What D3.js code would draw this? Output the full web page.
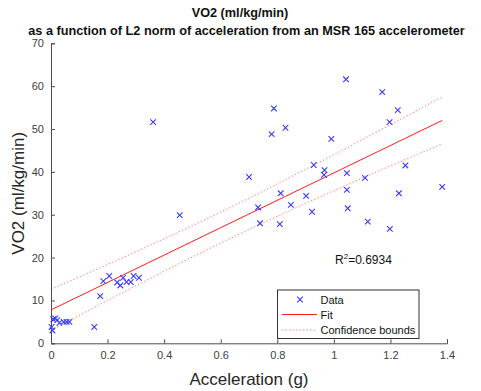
<!DOCTYPE html>
<html>
<head>
<meta charset="utf-8">
<script src="https://cdn.jsdelivr.net/npm/d3@7"></script>
<style>
  html, body { margin: 0; padding: 0; background: #fff; }
  svg { display: block; font-family: "Liberation Sans", Arial, sans-serif; }
</style>
</head>
<body>
<svg id="chart" width="481" height="391"></svg>
<script>
// ---- data ----
const accel = [0.002,0.005,0.008,0.015,0.022,0.030,0.045,0.055,0.065,0.153,0.174,0.185,0.206,0.234,0.245,0.255,0.267,0.282,0.292,0.311,0.361,0.455,0.700,0.732,0.739,0.780,0.788,0.809,0.812,0.829,0.848,0.902,0.923,0.929,0.965,0.967,0.991,1.043,1.046,1.046,1.049,1.110,1.120,1.171,1.197,1.198,1.226,1.230,1.253,1.383];
const vo2   = [3.8,3.0,5.6,5.8,5.4,4.8,5.0,5.0,5.0,3.8,11.0,14.5,15.7,14.2,13.5,15.3,14.3,14.3,15.7,15.3,51.6,29.9,38.8,31.7,28.0,48.8,54.8,27.8,35.0,50.3,32.3,34.4,30.7,41.6,39.3,40.4,47.7,61.6,39.7,35.8,31.5,38.6,28.4,58.6,51.6,26.7,54.4,35.0,41.5,36.5];
const fitX  = [0, 1.383];
const fitY  = [7.8, 52.0];
const boundX = [0, 0.2, 0.4, 0.6, 0.8, 1.0, 1.2, 1.383];
const upperY = [12.6, 18.4, 24.4, 30.6, 37.2, 44.0, 51.0, 57.5];
const lowerY = [3.0, 10.0, 16.8, 23.4, 29.6, 35.6, 41.4, 46.5];
const xTicks = [0, 0.2, 0.4, 0.6, 0.8, 1, 1.2, 1.4];
const yTicks = [0, 10, 20, 30, 40, 50, 60, 70];
const titleLines = ["VO2 (ml/kg/min)", "as a function of L2 norm of acceleration from an MSR 165 accelerometer"];
const legendLabels = ["Data", "Fit", "Confidence bounds"];
const r2Text = "0.6934";

// ---- layout ----
const svg = d3.select("#chart");
const pLeft = 51, pRight = 447, pTop = 43.3, pBottom = 343.3;
const x = d3.scaleLinear().domain([0, 1.4]).range([pLeft, pRight]);
const y = d3.scaleLinear().domain([0, 70]).range([pBottom, pTop]);
const axisColor = "#4d4d4d", textColor = "#404040";
const blue = "#3a3aff", red = "#ff1a1a";

// title
svg.append("text").attr("x", 240).attr("y", 17).attr("text-anchor", "middle")
  .attr("font-weight", "bold").attr("font-size", 12.7).attr("fill", "#111").text(titleLines[0]);
svg.append("text").attr("x", 246.5).attr("y", 35).attr("text-anchor", "middle")
  .attr("font-weight", "bold").attr("font-size", 12.7).attr("fill", "#111").text(titleLines[1]);

// axes
const xAxis = d3.axisBottom(x).tickValues(xTicks).tickSize(-4).tickPadding(8)
  .tickFormat(d => d3.format("")(d));
const gx = svg.append("g").attr("transform", `translate(0,${pBottom})`).call(xAxis);
const yAxis = d3.axisLeft(y).tickValues(yTicks).tickSize(-4).tickPadding(7);
const gy = svg.append("g").attr("transform", `translate(${pLeft},0)`).call(yAxis);
[gx, gy].forEach(g => {
  g.select(".domain").attr("stroke", axisColor).attr("stroke-width", 1);
  g.selectAll(".tick line").attr("stroke", axisColor);
  g.selectAll(".tick text").attr("fill", textColor).attr("font-size", 11)
    .attr("font-family", "Liberation Sans, Arial, sans-serif");
});

// axis labels
svg.append("text").attr("x", 249).attr("y", 385).attr("text-anchor", "middle")
  .attr("font-size", 17).attr("fill", "#262626").text("Acceleration (g)");
svg.append("text").attr("transform", `translate(24,${(pTop + pBottom) / 2}) rotate(-90)`)
  .attr("text-anchor", "middle").attr("font-size", 17).attr("fill", "#262626").text("VO2 (ml/kg/min)");

// confidence bounds
const bLine = d3.line().x(d => x(d[0])).y(d => y(d[1])).curve(d3.curveMonotoneX);
[upperY, lowerY].forEach(arr => {
  svg.append("path").datum(boundX.map((d, i) => [d, arr[i]]))
    .attr("d", bLine).attr("fill", "none").attr("stroke", red).attr("stroke-opacity", 0.55)
    .attr("stroke-width", 1).attr("stroke-dasharray", "1.5,2");
});
// fit
svg.append("path").datum(fitX.map((d, i) => [d, fitY[i]]))
  .attr("d", d3.line().x(d => x(d[0])).y(d => y(d[1])))
  .attr("fill", "none").attr("stroke", red).attr("stroke-width", 1);

// data markers
const mk = 2.8;
function cross(g, cx, cy) {
  g.append("path").attr("d", `M${cx - mk},${cy - mk}L${cx + mk},${cy + mk}M${cx - mk},${cy + mk}L${cx + mk},${cy - mk}`)
    .attr("stroke", blue).attr("stroke-width", 1.1).attr("fill", "none");
}
const gm = svg.append("g");
accel.forEach((a, i) => cross(gm, x(a), y(vo2[i])));

// R^2 annotation
const rt = svg.append("text").attr("x", 335).attr("y", 264).attr("font-size", 12).attr("fill", "#111");
rt.append("tspan").text("R");
rt.append("tspan").attr("dy", -5).attr("font-size", 8).text("2");
rt.append("tspan").attr("dy", 5).text("=" + r2Text);

// legend
const lg = svg.append("g");
lg.append("rect").attr("x", 277.5).attr("y", 290).attr("width", 141.5).attr("height", 48.5)
  .attr("fill", "#fff").attr("stroke", "#333").attr("stroke-width", 1);
cross(lg, 300, 299.5);
lg.append("line").attr("x1", 282).attr("x2", 317).attr("y1", 314.5).attr("y2", 314.5)
  .attr("stroke", red).attr("stroke-width", 1);
lg.append("line").attr("x1", 282).attr("x2", 317).attr("y1", 330).attr("y2", 330)
  .attr("stroke", red).attr("stroke-opacity", 0.55).attr("stroke-dasharray", "1.5,2");
[299.5, 314.5, 330].forEach((yy, i) => {
  lg.append("text").attr("x", 320.5).attr("y", yy + 4).attr("font-size", 11).attr("fill", "#111")
    .text(legendLabels[i]);
});
</script>
</body>
</html>
